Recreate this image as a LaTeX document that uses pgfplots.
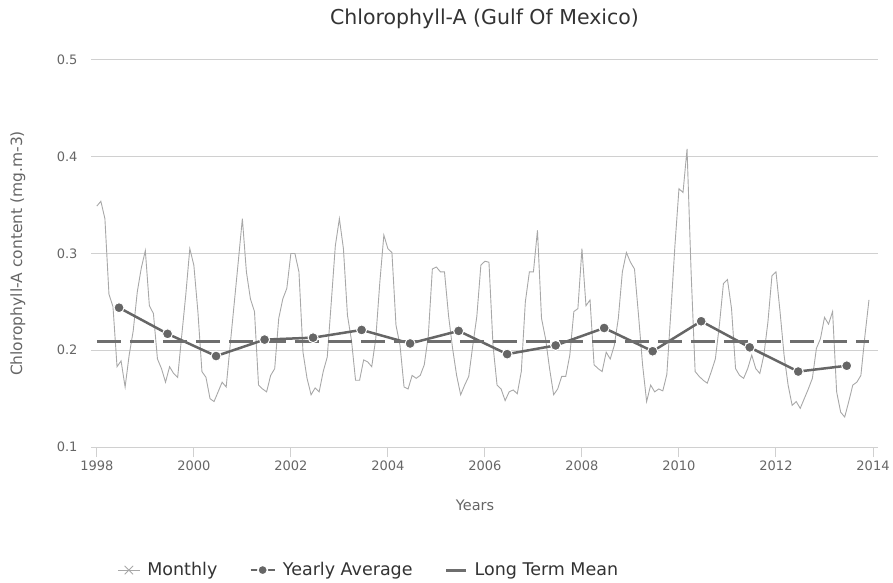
\documentclass[border=0pt]{standalone}
\usepackage{fontspec}
\setmainfont{DejaVu Sans}
\usepackage{pgfplots}
\pgfplotsset{compat=1.18}

\definecolor{titlegrey}{HTML}{333333}
\definecolor{labelgrey}{HTML}{666666}
\definecolor{gridgrey}{HTML}{D0D0D0}
\definecolor{monthgrey}{HTML}{A8A8A8}
\definecolor{yeargrey}{HTML}{666666}
\definecolor{meangrey}{HTML}{6E6E6E}

\begin{document}
\begin{tikzpicture}
\path[use as bounding box] (0,0) rectangle (893pt,582pt);
\begin{axis}[
    at={(91pt,135pt)}, anchor=south west,
    scale only axis, width=787pt, height=387pt,
    xmin=1997.88, xmax=2014.103, ymin=0.1, ymax=0.5,
    xtick={1998,2000,...,2014}, ytick={0.1,0.2,0.3,0.4,0.5},
    xtick pos=bottom, tick align=outside, major tick length=10pt,
    xtick style={draw=gridgrey, line width=1pt},
    ytick style={draw=none},
    axis line style={draw=none},
    ymajorgrids, grid style={draw=gridgrey, line width=1pt},
    /pgf/number format/assume math mode=true,
    xticklabel style={font=\fontsize{13}{15}\selectfont, text=labelgrey,
        /pgf/number format/1000 sep={}},
    yticklabel style={font=\fontsize{13}{15}\selectfont, text=labelgrey,
        /pgf/number format/fixed, /pgf/number format/precision=1},
    title={Chlorophyll-A (Gulf Of Mexico)},
    title style={at={(axis description cs:0.5,1)}, anchor=center, yshift=35pt,
        font=\fontsize{20.5}{24}\selectfont, text=titlegrey},
    xlabel={Years},
    xlabel style={at={(axis description cs:0.488,0)}, anchor=center, yshift=-58pt,
        font=\fontsize{14.5}{17}\selectfont, text=labelgrey},
    ylabel={Chlorophyll-A content (mg.m-3)},
    ylabel style={at={(axis description cs:-0.0928,0.5)}, anchor=center,
        font=\fontsize{15.5}{18}\selectfont, text=labelgrey},
    legend style={at={(axis description cs:0.353,-0.318)}, anchor=center,
        draw=none, fill=none, font=\fontsize{17.5}{20}\selectfont, text=titlegrey,
        /tikz/every odd column/.append style={column sep=5pt},
        /tikz/every even column/.append style={column sep=30pt}},
    legend columns=3,
]

% monthly series
\addplot[monthgrey, line width=0.9pt, no marks,
    legend image code/.code={
        \draw[monthgrey, line width=0.9pt] (0pt,0pt) -- (22pt,0pt);
        \draw[monthgrey, line width=0.9pt] plot[mark=x, mark size=6pt] coordinates {(11pt,0pt)};}]
    table[row sep=\\, x expr=\thisrow{yr}+\thisrow{mo}/12, y=v] {
yr mo v \\
1998 0 0.349 \\ 1998 1 0.354 \\ 1998 2 0.336 \\ 1998 3 0.258 \\ 1998 4 0.245 \\ 1998 5 0.183 \\ 1998 6 0.189 \\ 1998 7 0.162 \\ 1998 8 0.195 \\ 1998 9 0.220 \\ 1998 10 0.260 \\ 1998 11 0.285 \\
1999 0 0.303 \\ 1999 1 0.246 \\ 1999 2 0.238 \\ 1999 3 0.191 \\ 1999 4 0.181 \\ 1999 5 0.167 \\ 1999 6 0.183 \\ 1999 7 0.176 \\ 1999 8 0.172 \\ 1999 9 0.215 \\ 1999 10 0.257 \\ 1999 11 0.305 \\
2000 0 0.288 \\ 2000 1 0.240 \\ 2000 2 0.178 \\ 2000 3 0.172 \\ 2000 4 0.150 \\ 2000 5 0.147 \\ 2000 6 0.157 \\ 2000 7 0.167 \\ 2000 8 0.162 \\ 2000 9 0.206 \\ 2000 10 0.249 \\ 2000 11 0.292 \\
2001 0 0.336 \\ 2001 1 0.281 \\ 2001 2 0.253 \\ 2001 3 0.240 \\ 2001 4 0.164 \\ 2001 5 0.160 \\ 2001 6 0.157 \\ 2001 7 0.174 \\ 2001 8 0.181 \\ 2001 9 0.233 \\ 2001 10 0.253 \\ 2001 11 0.264 \\
2002 0 0.300 \\ 2002 1 0.300 \\ 2002 2 0.281 \\ 2002 3 0.198 \\ 2002 4 0.171 \\ 2002 5 0.154 \\ 2002 6 0.161 \\ 2002 7 0.157 \\ 2002 8 0.178 \\ 2002 9 0.193 \\ 2002 10 0.250 \\ 2002 11 0.308 \\
2003 0 0.336 \\ 2003 1 0.305 \\ 2003 2 0.236 \\ 2003 3 0.210 \\ 2003 4 0.169 \\ 2003 5 0.169 \\ 2003 6 0.190 \\ 2003 7 0.188 \\ 2003 8 0.183 \\ 2003 9 0.212 \\ 2003 10 0.270 \\ 2003 11 0.319 \\
2004 0 0.305 \\ 2004 1 0.301 \\ 2004 2 0.226 \\ 2004 3 0.205 \\ 2004 4 0.162 \\ 2004 5 0.160 \\ 2004 6 0.174 \\ 2004 7 0.171 \\ 2004 8 0.174 \\ 2004 9 0.185 \\ 2004 10 0.215 \\ 2004 11 0.284 \\
2005 0 0.286 \\ 2005 1 0.281 \\ 2005 2 0.281 \\ 2005 3 0.236 \\ 2005 4 0.202 \\ 2005 5 0.174 \\ 2005 6 0.154 \\ 2005 7 0.164 \\ 2005 8 0.173 \\ 2005 9 0.205 \\ 2005 10 0.235 \\ 2005 11 0.288 \\
2006 0 0.292 \\ 2006 1 0.291 \\ 2006 2 0.205 \\ 2006 3 0.164 \\ 2006 4 0.160 \\ 2006 5 0.148 \\ 2006 6 0.157 \\ 2006 7 0.159 \\ 2006 8 0.155 \\ 2006 9 0.178 \\ 2006 10 0.250 \\ 2006 11 0.281 \\
2007 0 0.281 \\ 2007 1 0.324 \\ 2007 2 0.233 \\ 2007 3 0.212 \\ 2007 4 0.181 \\ 2007 5 0.154 \\ 2007 6 0.160 \\ 2007 7 0.173 \\ 2007 8 0.173 \\ 2007 9 0.195 \\ 2007 10 0.240 \\ 2007 11 0.243 \\
2008 0 0.305 \\ 2008 1 0.246 \\ 2008 2 0.252 \\ 2008 3 0.185 \\ 2008 4 0.181 \\ 2008 5 0.178 \\ 2008 6 0.198 \\ 2008 7 0.191 \\ 2008 8 0.205 \\ 2008 9 0.233 \\ 2008 10 0.281 \\ 2008 11 0.301 \\
2009 0 0.291 \\ 2009 1 0.284 \\ 2009 2 0.236 \\ 2009 3 0.185 \\ 2009 4 0.147 \\ 2009 5 0.164 \\ 2009 6 0.157 \\ 2009 7 0.160 \\ 2009 8 0.158 \\ 2009 9 0.175 \\ 2009 10 0.240 \\ 2009 11 0.308 \\
2010 0 0.367 \\ 2010 1 0.363 \\ 2010 2 0.408 \\ 2010 3 0.281 \\ 2010 4 0.178 \\ 2010 5 0.173 \\ 2010 6 0.169 \\ 2010 7 0.166 \\ 2010 8 0.178 \\ 2010 9 0.191 \\ 2010 10 0.226 \\ 2010 11 0.269 \\
2011 0 0.273 \\ 2011 1 0.243 \\ 2011 2 0.181 \\ 2011 3 0.174 \\ 2011 4 0.171 \\ 2011 5 0.181 \\ 2011 6 0.195 \\ 2011 7 0.181 \\ 2011 8 0.176 \\ 2011 9 0.195 \\ 2011 10 0.229 \\ 2011 11 0.277 \\
2012 0 0.281 \\ 2012 1 0.240 \\ 2012 2 0.195 \\ 2012 3 0.164 \\ 2012 4 0.143 \\ 2012 5 0.147 \\ 2012 6 0.140 \\ 2012 7 0.150 \\ 2012 8 0.160 \\ 2012 9 0.171 \\ 2012 10 0.202 \\ 2012 11 0.212 \\
2013 0 0.234 \\ 2013 1 0.227 \\ 2013 2 0.240 \\ 2013 3 0.157 \\ 2013 4 0.136 \\ 2013 5 0.131 \\ 2013 6 0.147 \\ 2013 7 0.164 \\ 2013 8 0.167 \\ 2013 9 0.174 \\ 2013 10 0.215 \\ 2013 11 0.252 \\
};
\addlegendentry{Monthly}

% yearly averages (line only, markers redrawn on top later)
\addplot[yeargrey, line width=2.5pt, no marks,
    legend image code/.code={
        \draw[yeargrey, line width=2.5pt] (0pt,0pt) -- (24pt,0pt);
        \draw[white, line width=1.5pt, fill=yeargrey] (12pt,0pt) circle (4.8pt);}]
    coordinates {
    (1998.458,0.244) (1999.458,0.217) (2000.458,0.194) (2001.458,0.211)
    (2002.458,0.213) (2003.458,0.221) (2004.458,0.207) (2005.458,0.220)
    (2006.458,0.196) (2007.458,0.205) (2008.458,0.223) (2009.458,0.199)
    (2010.458,0.230) (2011.458,0.203) (2012.458,0.178) (2013.458,0.184)
    };
\addlegendentry{Yearly Average}

% long term mean
\addplot[meangrey, line width=3pt, dash pattern=on 24pt off 9pt,
    legend image code/.code={
        \draw[meangrey, line width=3pt] (0pt,0pt) -- (20pt,0pt);}]
    coordinates {(1998,0.209) (2013.917,0.209)};
\addlegendentry{Long Term Mean}

\addplot[only marks, mark=*, mark size=5pt,
    mark options={fill=yeargrey, draw=white, line width=1pt}, forget plot]
    coordinates {
    (1998.458,0.244) (1999.458,0.217) (2000.458,0.194) (2001.458,0.211)
    (2002.458,0.213) (2003.458,0.221) (2004.458,0.207) (2005.458,0.220)
    (2006.458,0.196) (2007.458,0.205) (2008.458,0.223) (2009.458,0.199)
    (2010.458,0.230) (2011.458,0.203) (2012.458,0.178) (2013.458,0.184)
    };
\end{axis}
\end{tikzpicture}
\end{document}
